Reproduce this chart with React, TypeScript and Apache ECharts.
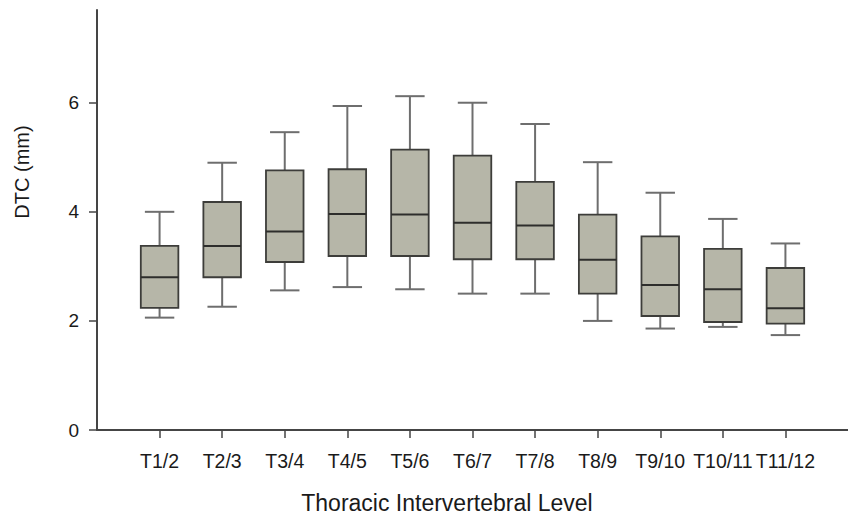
import React, { useEffect, useRef } from "react";
import * as echarts from "echarts";

const LEVELS = ["T1/2", "T2/3", "T3/4", "T4/5", "T5/6", "T6/7", "T7/8", "T8/9", "T9/10", "T10/11", "T11/12"];
const WHISKER_LOW = [2.06, 2.26, 2.56, 2.62, 2.58, 2.5, 2.5, 2.0, 1.86, 1.89, 1.74];
const Q1 = [2.24, 2.8, 3.08, 3.19, 3.19, 3.13, 3.13, 2.5, 2.09, 1.98, 1.95];
const MEDIAN = [2.8, 3.375, 3.64, 3.96, 3.95, 3.8, 3.75, 3.12, 2.66, 2.58, 2.23];
const Q3 = [3.375, 4.18, 4.76, 4.78, 5.14, 5.03, 4.55, 3.95, 3.55, 3.32, 2.97];
const WHISKER_HIGH = [4.0, 4.9, 5.46, 5.94, 6.12, 6.0, 5.61, 4.91, 4.35, 3.87, 3.42];
const Y_TICKS = [0, 2, 4, 6];

const FONT = "'Liberation Sans', Arial, sans-serif";

export default function App() {
  const ref = useRef<HTMLDivElement>(null);
  useEffect(() => {
    if (!ref.current) return;
    const chart = echarts.init(ref.current, null, { renderer: "svg" });
    const data = LEVELS.map((_, i) => [i + 1, WHISKER_LOW[i], Q1[i], MEDIAN[i], Q3[i], WHISKER_HIGH[i]]);
    const xTicks = LEVELS.map((_, i) => i + 1);
    const axisColor = "#454545";
    chart.setOption({
      animation: false,
      backgroundColor: "#ffffff",
      grid: { left: 97, right: -9, top: 10, bottom: 88, containLabel: false },
      xAxis: {
        type: "value",
        min: 0,
        max: 12,
        interval: 1,
        splitLine: { show: false },
        axisLine: { show: true, lineStyle: { color: axisColor, width: 2 } },
        axisTick: { show: true, length: 8, customValues: xTicks, lineStyle: { color: axisColor, width: 1.5 } },
        axisLabel: {
          customValues: xTicks,
          formatter: (v: number) => LEVELS[Math.round(v) - 1] ?? "",
          margin: 21,
          fontSize: 19.5,
          fontFamily: FONT,
          color: "#1a1a1a",
        },
      },
      yAxis: {
        type: "value",
        min: 0,
        max: 7.7,
        interval: 2,
        splitLine: { show: false },
        axisLine: { show: true, lineStyle: { color: axisColor, width: 2 } },
        axisTick: { show: true, length: 8, customValues: Y_TICKS, lineStyle: { color: axisColor, width: 1.5 } },
        axisLabel: {
          customValues: Y_TICKS,
          margin: 18,
          fontSize: 19,
          fontFamily: FONT,
          color: "#1a1a1a",
        },
      },
      graphic: [
        {
          type: "text",
          x: 22,
          y: 172,
          rotation: Math.PI / 2,
          style: {
            text: "DTC (mm)",
            fontSize: 20,
            fontFamily: FONT,
            fill: "#1a1a1a",
            align: "center",
            verticalAlign: "middle",
          },
        },
        {
          type: "text",
          x: 447,
          y: 503,
          style: {
            text: "Thoracic Intervertebral Level",
            fontSize: 23,
            fontFamily: FONT,
            fill: "#1a1a1a",
            align: "center",
            verticalAlign: "middle",
          },
        },
      ],
      series: [
        {
          type: "custom",
          data,
          encode: { x: 0, y: [1, 2, 3, 4, 5] },
          renderItem: (params: any, api: any) => {
            const x = api.value(0);
            const band = api.size([1, 0])[0];
            const boxW = band * 0.6;
            const capW = band * 0.47;
            const pLow = api.coord([x, api.value(1)]);
            const pQ1 = api.coord([x, api.value(2)]);
            const pMed = api.coord([x, api.value(3)]);
            const pQ3 = api.coord([x, api.value(4)]);
            const pHigh = api.coord([x, api.value(5)]);
            const cx = pMed[0];
            const whiskerStyle = { stroke: "#6e6e6e", lineWidth: 2 };
            return {
              type: "group",
              children: [
                { type: "line", shape: { x1: cx, y1: pQ3[1], x2: cx, y2: pHigh[1] }, style: whiskerStyle },
                { type: "line", shape: { x1: cx, y1: pQ1[1], x2: cx, y2: pLow[1] }, style: whiskerStyle },
                { type: "line", shape: { x1: cx - capW / 2, y1: pHigh[1], x2: cx + capW / 2, y2: pHigh[1] }, style: whiskerStyle },
                { type: "line", shape: { x1: cx - capW / 2, y1: pLow[1], x2: cx + capW / 2, y2: pLow[1] }, style: whiskerStyle },
                {
                  type: "rect",
                  shape: { x: cx - boxW / 2, y: pQ3[1], width: boxW, height: pQ1[1] - pQ3[1] },
                  style: { fill: "#b6b6a8", stroke: "#3d3d3a", lineWidth: 1.8 },
                },
                {
                  type: "line",
                  shape: { x1: cx - boxW / 2, y1: pMed[1], x2: cx + boxW / 2, y2: pMed[1] },
                  style: { stroke: "#2e2e2c", lineWidth: 2 },
                },
              ],
            };
          },
        },
      ],
    });
    return () => chart.dispose();
  }, []);
  return <div ref={ref} style={{ position: "fixed", left: 0, top: 0, width: 848, height: 518 }} />;
}
